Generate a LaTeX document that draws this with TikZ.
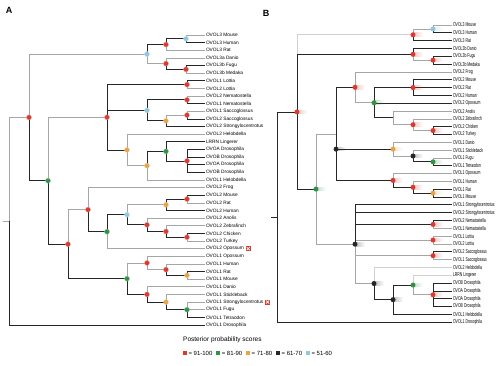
\documentclass[tikz,border=0pt]{standalone}
\usepackage{fontspec}
\setmainfont{Liberation Sans}
\newfontfamily\narrowsans[FakeStretch=0.62]{Liberation Sans}
\usetikzlibrary{positioning,calc,fadings}
\definecolor{ppred}{HTML}{DB3A2E}
\definecolor{ppgreen}{HTML}{2E9444}
\definecolor{pporange}{HTML}{E9A245}
\definecolor{ppblack}{HTML}{262626}
\definecolor{ppblue}{HTML}{8FC6E0}
\tikzstyle{taxa} = [anchor=west, inner sep=0.8pt, font=\fontsize{4.8}{5}\selectfont]
\tikzstyle{taxb} = [anchor=west, inner sep=0.8pt, font=\narrowsans\fontsize{5.6}{6}\selectfont]
\tikzstyle{bl} = [draw=ppblack, line width=0.75pt]
\tikzstyle{gr} = [draw=black!35, line width=0.6pt]
\tikzstyle{grl} = [draw=black!18, line width=0.6pt]
\tikzstyle{pp} = [circle, inner sep=0pt, minimum size=5pt]
\tikzstyle{sq} = [rectangle, inner sep=0pt, minimum size=4pt]
\tikzstyle{lgt} = [inner sep=0.5pt, font=\fontsize{6}{7}\selectfont]
\tikzstyle{xmk} = [rectangle, fill=ppred, inner sep=0pt, minimum size=5pt,
  path picture={\draw[white, line width=0.7pt]
    ([shift={(1pt,1pt)}]path picture bounding box.south west) -- ([shift={(-1pt,-1pt)}]path picture bounding box.north east)
    ([shift={(1pt,-1pt)}]path picture bounding box.north west) -- ([shift={(-1pt,1pt)}]path picture bounding box.south east);}]
\pgfmathdeclarefunction{ya}{1}{\pgfmathparse{35+7.63*(#1-1)}}
\pgfmathdeclarefunction{yb}{1}{\pgfmathparse{25+7.82*(#1-1)}}

\begin{document}
\begin{tikzpicture}[x=1pt, y=-1pt, >=latex]
\useasboundingbox (0,0) rectangle (500,365);

\node[font=\bfseries\fontsize{9}{10}\selectfont] (titleA) at (9,10) {A};
\node[font=\bfseries\fontsize{9}{10}\selectfont] (titleB) at (266,13) {B};

% panel A: taxa
\foreach \i/\t in {1/OVOL3 Mouse, 2/OVOL3 Human, 3/OVOL3 Rat, 4/OVOL3a Danio, 5/OVOL3b Fugu,
  6/OVOL3b Medaka, 7/OVOL1 Lottia, 8/OVOL2 Lottia, 9/OVOL2 Nematostella, 10/OVOL1 Nematostella,
  11/OVOL1 Saccoglossus, 12/OVOL2 Saccoglossus, 13/OVOL2 Strongylocentrotus, 14/OVOL2 Helobdella,
  15/LRRN Lingerer, 16/OVOA Drosophila, 17/OVOB Drosophila, 18/OVOA Drosophila, 19/OVOB Drosophila,
  20/OVOL1 Helobdella, 21/OVOL2 Frog, 22/OVOL2 Mouse, 23/OVOL2 Rat, 24/OVOL2 Human, 25/OVOL2 Anolis,
  26/OVOL2 Zebrafinch, 27/OVOL2 Chicken, 28/OVOL2 Turkey, 29/OVOL2 Opossum, 30/OVOL1 Opossum,
  31/OVOL1 Human, 32/OVOL1 Rat, 33/OVOL1 Mouse, 34/OVOL1 Danio, 35/OVOL1 Stickleback,
  36/OVOL1 Strongylocentrotus, 37/OVOL1 Fugu, 38/OVOL1 Tetraodon, 39/OVOL1 Drosophila}
  \node[taxa] (a\i) at (205,{ya(\i)}) {\t};
\node[xmk, right=0.6pt of a29] (xa29) {};
\node[xmk, right=0.6pt of a36] (xa36) {};

% panel A: internal nodes
\coordinate (aStub) at (3,{ya(25.4)});
\coordinate (aRoot) at (9,{ya(25.4)});
\coordinate (aN1) at (29,{ya(11.8)});
\coordinate (aB1) at (147,{ya(3.5)});
\coordinate (aR1) at (166,{ya(2.25)});
\coordinate (aBl1) at (186,{ya(1.5)});
\coordinate (aR2) at (166,{ya(4.75)});
\coordinate (aR2f) at (186,{ya(5.5)});
\coordinate (aN2) at (48,{ya(20.1)});
\coordinate (aR3) at (107,{ya(11.78)});
\coordinate (aLot) at (187,{ya(7.5)});
\coordinate (aB2) at (147,{ya(10.875)});
\coordinate (aNem) at (187,{ya(9.5)});
\coordinate (aO3) at (166,{ya(12.25)});
\coordinate (aSac) at (187,{ya(11.5)});
\coordinate (aO1) at (127,{ya(16.06)});
\coordinate (aO2) at (147,{ya(18.125)});
\coordinate (aG1) at (166,{ya(16.25)});
\coordinate (aDro) at (187,{ya(17.5)});
\coordinate (aR4) at (68,{ya(28.41)});
\coordinate (aR5) at (88,{ya(23.89)});
\coordinate (aG2) at (107,{ya(26.78)});
\coordinate (aB3) at (127,{ya(24.56)});
\coordinate (aO4) at (166,{ya(23.25)});
\coordinate (aR6) at (187,{ya(22.5)});
\coordinate (aR7) at (147,{ya(25.875)});
\coordinate (aR8) at (166,{ya(26.75)});
\coordinate (aR9) at (187,{ya(27.5)});
\coordinate (aG3) at (127,{ya(32.94)});
\coordinate (aR10) at (147,{ya(30.875)});
\coordinate (aR11) at (166,{ya(31.75)});
\coordinate (aO5) at (187,{ya(32.5)});
\coordinate (aR12) at (147,{ya(35)});
\coordinate (aO6) at (166,{ya(36)});
\coordinate (aG4) at (187,{ya(37)});

\draw[gr] (aStub) -- (aRoot);
\foreach \p/\c in {aRoot/aN1, aN1/aB1, aB1/aR2, aR1/a3, aBl1/a1, aR2/a4, aR2f/a6, aN2/aR3,
  aLot/a8, aNem/a9, aO3/aSac, aSac/a11, aO1/a14, aO1/aO2, aO2/a20, aR4/aR5, aR5/a21, aG2/a29,
  aB3/aO4, aR6/a23, aR7/a25, aR8/a26, aR9/a28, aG3/aR10, aR10/a30, aR10/aR11, aR11/a31, aO5/a33,
  aR12/a34, aO6/a35, aG4/a36, aG4/a37}
  \draw[gr] (\p) |- (\c);
\foreach \p/\c in {aRoot/a39, aN1/aN2, aB1/aR1, aR1/aBl1, aBl1/a2, aR2/aR2f, aR2f/a5, aN2/aR4,
  aR3/aLot, aR3/aB2, aR3/aO1, aLot/a7, aB2/aNem, aB2/aO3, aNem/a10, aO3/a13, aSac/a12, aO2/aG1,
  aG1/a15, aG1/aDro, aDro/a16, aDro/a17, aDro/a18, aDro/a19, aR4/aG3, aR5/aG2, aG2/aB3, aB3/aR7,
  aO4/aR6, aO4/a24, aR6/a22, aR7/aR8, aR8/aR9, aR9/a27, aG3/aR12, aR11/aO5, aO5/a32, aR12/aO6,
  aO6/aG4, aG4/a38}
  \draw[bl] (\p) |- (\c);
\foreach \n/\c in {aN1/ppred, aB1/ppblue, aR1/ppred, aBl1/ppblue, aR2/ppred, aR2f/ppred,
  aN2/ppgreen, aR3/ppred, aLot/ppred, aB2/ppblue, aNem/ppred, aO3/pporange, aSac/ppred,
  aO1/pporange, aO2/pporange, aG1/ppgreen, aDro/ppred, aR4/ppred, aR5/ppred, aG2/ppgreen,
  aB3/ppblue, aO4/pporange, aR6/ppred, aR7/ppred, aR8/ppred, aR9/ppred, aG3/ppgreen,
  aR10/ppred, aR11/ppred, aO5/pporange, aR12/ppred, aO6/pporange, aG4/ppgreen}
  \node[pp, fill=\c, draw=\c!55!white, line width=0.3pt] (m\n) at (\n) {};

% panel B: taxa
\foreach \i/\t in {1/OVOL3 Mouse, 2/OVOL3 Human, 3/OVOL3 Rat, 4/OVOL3b Danio, 5/OVOL3b Fugu,
  6/OVOL3b Medaka, 7/OVOL2 Frog, 8/OVOL2 Mouse, 9/OVOL2 Rat, 10/OVOL2 Human, 11/OVOL2 Opossum,
  12/OVOL2 Anolis, 13/OVOL2 Zebrafinch, 14/OVOL2 Chicken, 15/OVOL2 Turkey, 16/OVOL1 Danio,
  17/OVOL1 Stickleback, 18/OVOL1 Fugu, 19/OVOL1 Tetraodon, 20/OVOL1 Opossum, 21/OVOL1 Human,
  22/OVOL1 Rat, 23/OVOL1 Mouse, 24/OVOL1 Strongylocentrotus, 25/OVOL2 Strongylocentrotus,
  26/OVOL2 Nematostella, 27/OVOL1 Nematostella, 28/OVOL1 Lottia, 29/OVOL2 Lottia,
  30/OVOL2 Saccoglossus, 31/OVOL1 Saccoglossus, 32/OVOL2 Helobdella, 33/LRRN Lingerer,
  34/OVOB Drosophila, 35/OVOA Drosophila, 36/OVOA Drosophila, 37/OVOB Drosophila,
  38/OVOL1 Helobdella, 39/OVOL1 Drosophila}
  \node[taxb] (b\i) at (452,{yb(\i)}) {\t};

% panel B: internal nodes
\coordinate (bStub) at (271,{yb(25.56)});
\coordinate (bRoot) at (277,{yb(25.56)});
\coordinate (bR1) at (297,{yb(12.11)});
\coordinate (bRa) at (413,{yb(2.25)});
\coordinate (bBl) at (433,{yb(1.5)});
\coordinate (bRb) at (413,{yb(4.75)});
\coordinate (bRc) at (433,{yb(5.5)});
\coordinate (bG1) at (316,{yb(21.98)});
\coordinate (bU) at (336,{yb(14.92)});
\coordinate (bK1) at (336,{yb(16.875)});
\coordinate (bR2) at (355,{yb(8.97)});
\coordinate (bG2) at (374,{yb(10.94)});
\coordinate (bR3) at (413,{yb(9)});
\coordinate (bM) at (393,{yb(12.875)});
\coordinate (bR4) at (413,{yb(13.75)});
\coordinate (bR5) at (433,{yb(14.5)});
\coordinate (bO1) at (393,{yb(16.875)});
\coordinate (bK) at (413,{yb(17.75)});
\coordinate (bG3) at (433,{yb(18.5)});
\coordinate (bR6) at (393,{yb(20.875)});
\coordinate (bR7) at (413,{yb(21.75)});
\coordinate (bO2) at (433,{yb(22.5)});
\coordinate (bK2) at (355,{yb(29.03)});
\coordinate (bR8) at (433,{yb(26.5)});
\coordinate (bR9) at (433,{yb(28.5)});
\coordinate (bR10) at (433,{yb(30.5)});
\coordinate (bK3) at (374,{yb(34.06)});
\coordinate (bK4) at (393,{yb(36.125)});
\coordinate (bG4) at (413,{yb(34.25)});
\coordinate (bR11) at (433,{yb(35.5)});

\draw[bl] (bStub) -- (bRoot);
\foreach \p/\c in {bR1/bRa, bG4/b33, bK3/b32}
  \draw[grl] (\p) |- (\c);
\foreach \p/\c in {bRa/bBl, bBl/b1, bRb/bRc, bG1/bU, bG1/bK2, bR2/b7, bR2/bG2, bM/b12, bM/bR4,
  bR4/b13, bR4/bR5, bO1/b16, bO1/bK, bK/b17, bG3/b18, bR6/b20, bR7/b21, bK2/bR9, bK2/bR10,
  bK2/bK3, bR8/b27, bR9/b28, bR9/b29, bR10/b31, bG4/bR11}
  \draw[gr] (\p) |- (\c);
\foreach \p/\c in {bRoot/bR1, bRoot/b39, bR1/bRb, bR1/bG1, bRa/b3, bBl/b2, bRb/b4, bRc/b5, bRc/b6,
  bU/bR2, bU/bO1, bU/bR6, bG2/bR3, bG2/b11, bG2/bM, bR3/b8, bR3/b9, bR3/b10, bR5/b14, bR5/b15,
  bK/bG3, bG3/b19, bR6/bR7, bR7/bO2, bO2/b22, bO2/b23, bK2/b24, bK2/b25, bK2/bR8, bR8/b26,
  bR10/b30, bK3/bK4, bK4/bG4, bK4/b38, bR11/b34, bR11/b35, bR11/b36, bR11/b37}
  \draw[bl] (\p) |- (\c);
\foreach \n/\c in {bR1/ppred, bRa/ppred, bBl/ppblue, bRb/ppred, bRc/ppred, bG1/ppgreen,
  bK1/ppblack, bR2/ppred, bG2/ppgreen, bR3/ppred, bR4/ppred, bR5/ppred, bO1/pporange,
  bK/ppblack, bG3/ppgreen, bR6/ppred, bR7/ppred, bO2/pporange, bK2/ppblack, bR8/ppred,
  bR9/ppred, bR10/ppred, bK3/ppblack, bK4/ppblack, bG4/ppgreen, bR11/ppred} {
  \fill[\c, opacity=0.3, path fading=east] ($(\n)+(0,-2.3)$) rectangle ($(\n)+(10,2.3)$);
  \node[pp, fill=\c] (m\n) at (\n) {};
}

% legend
\node[anchor=west, inner sep=0pt, font=\fontsize{6.5}{7}\selectfont] (lgTitle) at (183,340) {Posterior probability scores};
\node[sq, fill=ppred] (k1) at (185,353) {};
\node[lgt, right=0.6pt of k1] (k1t) {= 91-100};
\node[sq, fill=ppgreen, right=3pt of k1t] (k2) {};
\node[lgt, right=0.6pt of k2] (k2t) {= 81-90};
\node[sq, fill=pporange, right=3pt of k2t] (k3) {};
\node[lgt, right=0.6pt of k3] (k3t) {= 71-80};
\node[sq, fill=ppblack, right=3pt of k3t] (k4) {};
\node[lgt, right=0.6pt of k4] (k4t) {= 61-70};
\node[sq, fill=ppblue, right=3pt of k4t] (k5) {};
\node[lgt, right=0.6pt of k5] (k5t) {= 51-60};

\end{tikzpicture}
\end{document}
